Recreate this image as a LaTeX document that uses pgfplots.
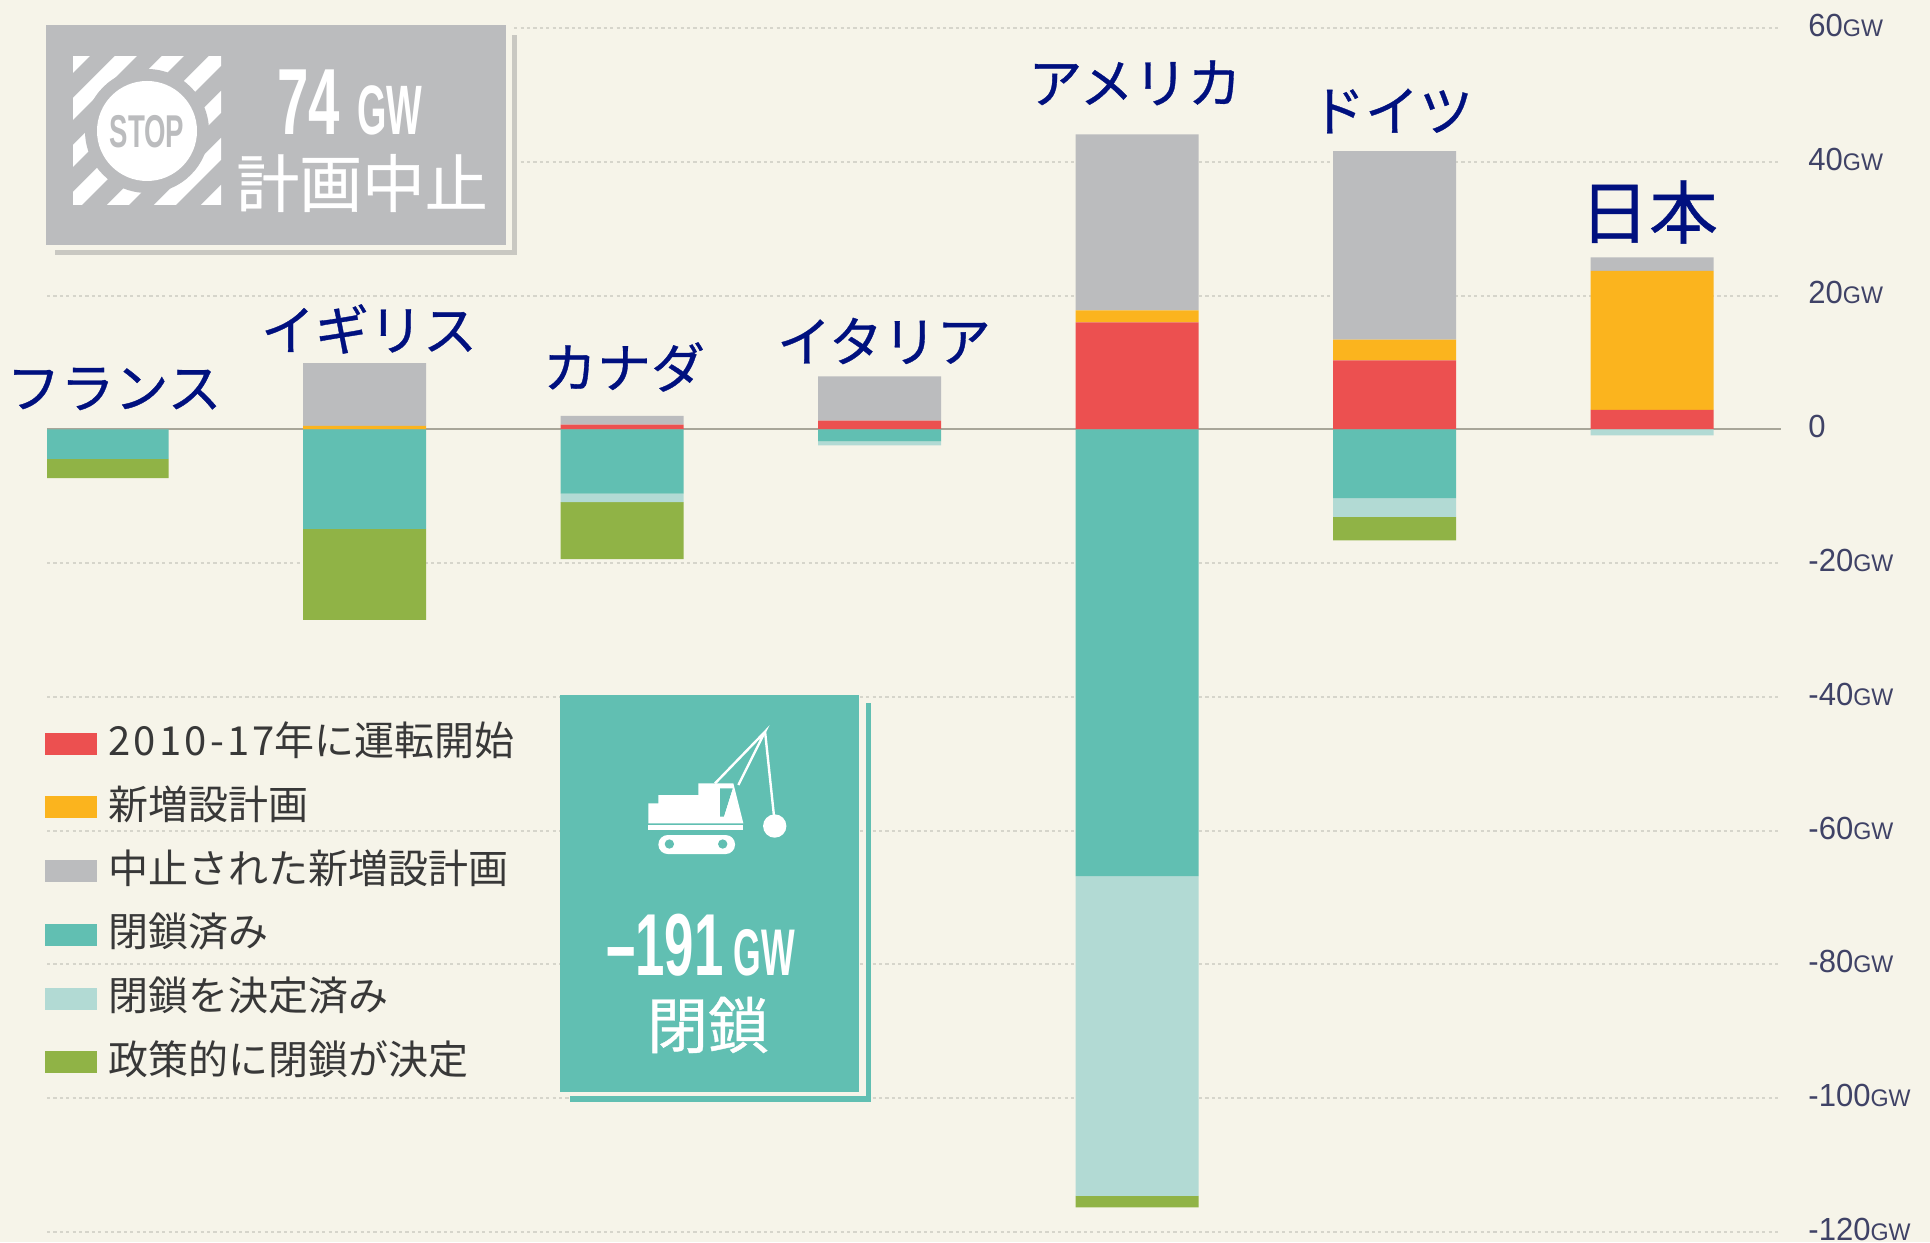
\documentclass[border=0pt]{standalone}
\usepackage{pgfplots}
\usepackage{pgfplotstable}
\pgfplotsset{compat=1.18}
\usepackage{fontspec}
\setmainfont{Noto Sans CJK JP}
\newfontfamily\jp{Noto Sans CJK JP}
\newfontfamily\jpm[FakeBold=0.6]{Noto Sans CJK JP}
\newfontfamily\din[FakeStretch=0.97]{Liberation Sans}
\newfontfamily\dinc[FakeStretch=0.6]{Liberation Sans}
\newfontfamily\dind[FakeStretch=0.54]{Liberation Sans}
\definecolor{bgc}{HTML}{F6F4E9}
\definecolor{redc}{HTML}{EC5050}
\definecolor{yelc}{HTML}{FBB41E}
\definecolor{grac}{HTML}{BBBCBE}
\definecolor{teac}{HTML}{61BFB2}
\definecolor{ligc}{HTML}{B2DAD4}
\definecolor{grec}{HTML}{90B346}
\definecolor{navy}{HTML}{00107F}
\definecolor{tickc}{HTML}{3F4266}
\definecolor{gridc}{HTML}{D6D5CB}
\definecolor{zeroc}{HTML}{A8A699}
\definecolor{shg}{HTML}{C9C8C2}
\newcommand{\fs}[1]{\fontsize{#1}{#1}\selectfont}
\newcommand{\gw}[1]{{\din\fs{16}#1{\fs{12}GW}}}
\pgfplotstableread{
x red yellow gray
0 0 0 0
1 0 0.5 9.4
2 0.7 0 1.3
3 1.3 0 6.6
4 16.0 1.8 26.3
5 10.3 3.1 28.2
6 2.9 20.8 2.0
}\postable
\pgfplotstableread{
x closed decided policy
0 -4.4 0 -2.9
1 -14.9 0 -13.6
2 -9.6 -1.3 -8.5
3 -1.8 -0.6 0
4 -66.8 -47.8 -1.7
5 -10.3 -2.8 -3.5
6 0 -0.9 0
}\negtable
\pgfplotsset{
  base/.style={
    at={(23.5pt,5pt)},anchor=south west,
    scale only axis,width=867pt,height=602pt,
    xmin=-0.233,xmax=6.501,ymin=-120,ymax=60,
    ybar stacked,bar width=61.5pt,
  },
  swatch/.style={
    legend image code/.code={\fill[##1,draw=none] (0pt,-5.5pt) rectangle (26pt,5.5pt);}
  },
}
\begin{document}
\begin{tikzpicture}
\useasboundingbox (0,0) rectangle (965pt,621pt);
\fill[bgc] (0,0) rectangle (965pt,621pt);
\begin{axis}[base,
  axis line style={draw=none},
  xtick=\empty,
  ytick={-120,-100,-80,-60,-40,-20,20,40,60},
  yticklabels={\gw{-120},\gw{-100},\gw{-80},\gw{-60},\gw{-40},\gw{-20},\gw{20},\gw{40},\gw{60}},
  extra y ticks={0},
  extra y tick labels={{\din\fs{16}0}},
  extra y tick style={grid=major,major grid style={solid,draw=zeroc,line width=1pt},tick style={draw=none}},
  ymajorgrids,
  major grid style={draw=gridc,line width=1pt,dash pattern=on 1.6pt off 1.6pt},
  tick style={draw=none},
  yticklabel pos=right,
  yticklabel style={anchor=west,xshift=13.5pt,yshift=1.3pt,text=tickc,inner sep=0pt},
  swatch,
  legend cell align=left,
  legend style={at={(axis description cs:-0.0012,0.4225)},anchor=north west,draw=none,fill=none,
    inner sep=0pt,font=\jp\fs{20},text=black!78,
    nodes={inner ysep=0pt,inner xsep=5.6pt,text height=16pt,text depth=4pt},
    /tikz/row sep=11.85pt},
]
\addplot[fill=redc,draw=none,forget plot] table[x=x,y=red]{\postable};
\addplot[fill=yelc,draw=none,forget plot] table[x=x,y=yellow]{\postable};
\addplot[fill=grac,draw=none,forget plot] table[x=x,y=gray]{\postable};
\addlegendimage{fill=redc}\addlegendentry{{\addfontfeatures{LetterSpace=8}2010-17}年に運転開始}
\addlegendimage{fill=yelc}\addlegendentry{新増設計画}
\addlegendimage{fill=grac}\addlegendentry{中止された新増設計画}
\addlegendimage{fill=teac}\addlegendentry{閉鎖済み}
\addlegendimage{fill=ligc}\addlegendentry{閉鎖を決定済み}
\addlegendimage{fill=grec}\addlegendentry{政策的に閉鎖が決定}
\end{axis}
\begin{axis}[base,hide axis]
\addplot[fill=teac,draw=none] table[x=x,y=closed]{\negtable};
\addplot[fill=ligc,draw=none] table[x=x,y=decided]{\negtable};
\addplot[fill=grec,draw=none] table[x=x,y=policy]{\negtable};
\end{axis}
\begin{scope}[x=0.5pt,y=-0.5pt,yshift=621pt]
% grey card
\fill[shg] (55,250) rectangle (517,255);
\fill[shg] (512,35) rectangle (517,255);
\fill[bgc] (506,25) rectangle (512,250);
\fill[bgc] (46,245) rectangle (512,250);
\fill[grac] (46,25) rectangle (506,245);
\begin{scope}
\clip (73,57) rectangle (221,205);
\foreach \c in {124,171,218,265,312,359,406}{
  \fill[white] (\c-300,300) -- (\c+22-300,300) -- (\c+22+100,-100) -- (\c+100,-100) -- cycle;
}
\end{scope}
\fill[grac] (147,131) circle (62);
\fill[white] (147,131) circle (50);
\node[text=grac,inner sep=0pt] at (147,132) {\dinc\bfseries\fs{23}STOP};
\node[text=white,inner sep=0pt,anchor=base west] at (277,135) {\dinc\bfseries\fs{47}74};
\node[text=white,inner sep=0pt,anchor=base west] at (357,135) {\dind\bfseries\fs{35}GW};
\node[text=white,inner sep=0pt] at (362,183) {\jpm\fs{31.4}計画中止};
% teal card
\fill[teac] (570,1096) rectangle (871,1102);
\fill[teac] (866,703) rectangle (871,1102);
\fill[teac] (560,695) rectangle (859,1092);
\begin{scope}[shift={(520,660)},x=0.1667pt,y=-0.1667pt]
\fill[white] (385,430)--(415,430)--(415,405)--(535,405)--(535,370)--(640,370)--(670,490)--(385,490)--cycle;
\fill[teac] (600,385)--(638,385)--(612,470)--(600,470)--cycle;
\fill[white] (385,495) rectangle (670,510);
\fill[white,rounded corners=4.7pt] (415,525) rectangle (645,582);
\fill[teac] (448,552) circle (14);
\fill[teac] (608,552) circle (14);
\draw[white,line width=1.2pt] (585,370)--(735,215)--(655,375);
\draw[white,line width=1.2pt] (735,215)--(762,470);
\draw[white,line width=.8pt] (612,478)--(640,390);
\fill[white] (764,498) circle (35);
\end{scope}
\node[text=white,inner sep=0pt,anchor=base east] at (724,975) {\dinc\bfseries\fs{44}\textendash 191};
\node[text=white,inner sep=0pt,anchor=base west] at (733,975) {\dind\bfseries\fs{33}GW};
\node[text=white,inner sep=0pt] at (708,1025) {\jpm\fs{30.5}閉鎖};
% country labels
\foreach \xx/\yy/\t in {114/389/フランス,369/329/イギリス,624/367/カナダ,884/341/イタリア,1135/83/アメリカ,1392/111/ドイツ}{
  \node[text=navy,inner sep=0pt] at (\xx,\yy) {\jpm\fs{27}\t};
}
\node[text=navy,inner sep=0pt] at (1649,212) {\jpm\fs{34.5}日本};
\end{scope}
\end{tikzpicture}
\end{document}
